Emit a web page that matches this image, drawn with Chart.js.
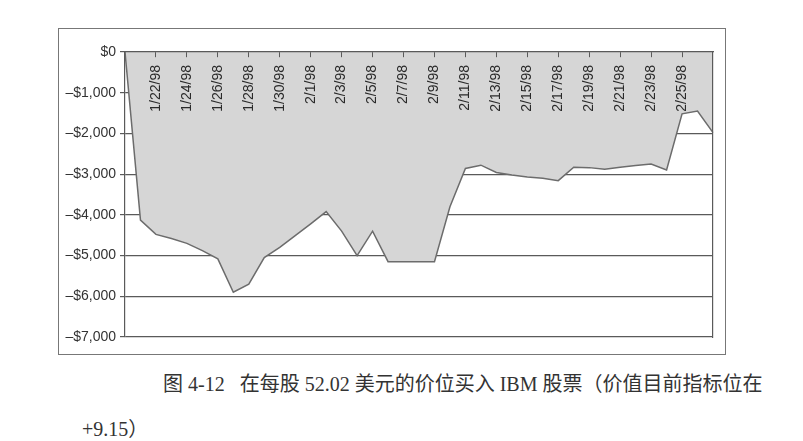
<!DOCTYPE html>
<html>
<head>
<meta charset="utf-8">
<script src="https://cdn.jsdelivr.net/npm/chart.js@4/dist/chart.umd.min.js"></script>
<style>
    body { margin: 0; background: #fff; width: 803px; height: 441px; overflow: hidden; position: relative; }
    .frame { position: absolute; left: 58px; top: 28px; width: 668px; height: 327px; border: 1px solid #777; box-sizing: border-box; }
    .frame canvas { position: absolute; left: 0; top: 0; }
    .caption {
        position: absolute; left: 82px; top: 362px; width: 700px;
        font-family: "Liberation Serif", "Noto Sans CJK SC", serif;
        font-size: 20px; line-height: 45px; color: #333; text-indent: 81px;
    }
</style>
</head>
<body>
<div class="frame"><canvas id="myChart" width="666" height="325"></canvas></div>
<div class="caption">图 4-12&nbsp;&nbsp; 在每股 52.02 美元的价位买入 IBM 股票（价值目前指标位在<br>+9.15）</div>
<script>
const dates = [
    "1/20/98", "1/21/98", "1/22/98", "1/23/98", "1/24/98", "1/25/98", "1/26/98", "1/27/98",
    "1/28/98", "1/29/98", "1/30/98", "1/31/98", "2/1/98", "2/2/98", "2/3/98", "2/4/98",
    "2/5/98", "2/6/98", "2/7/98", "2/8/98", "2/9/98", "2/10/98", "2/11/98", "2/12/98",
    "2/13/98", "2/14/98", "2/15/98", "2/16/98", "2/17/98", "2/18/98", "2/19/98", "2/20/98",
    "2/21/98", "2/22/98", "2/23/98", "2/24/98", "2/25/98", "2/26/98", "2/27/98"
];
const profit = [
    0, -4130, -4480, -4580, -4700, -4880, -5080, -5900,
    -5700, -5050, -4800, -4510, -4220, -3920, -4400, -5000,
    -4400, -5150, -5150, -5150, -5150, -3800, -2860, -2780,
    -2960, -3020, -3070, -3100, -3160, -2830, -2840, -2880,
    -2830, -2790, -2750, -2900, -1520, -1450, -1980
];
const yTicks = [0, -1000, -2000, -3000, -4000, -5000, -6000, -7000];

const axisColor = "#5a5a5a";
const labelFont = { family: "'Liberation Sans', Arial, sans-serif", size: 14 };

// every second date gets a label, first and last left blank
function showLabel(i) {
    return i % 2 === 0 && i >= 2 && i <= dates.length - 3;
}

function money(v) {
    if (v === 0) return "$0";
    return (v < 0 ? "–$" : "$") + Math.abs(v).toLocaleString("en-US");
}

const ctx = document.getElementById("myChart").getContext("2d");

new Chart(ctx, {
    type: "line",
    data: {
        labels: dates,
        datasets: [{
            data: profit,
            borderColor: "#6c6c6c",
            borderWidth: 1.5,
            backgroundColor: "#d6d6d6",
            fill: "origin",
            tension: 0,
            pointRadius: 0
        }]
    },
    options: {
        responsive: false,
        animation: false,
        layout: { padding: { top: 23, right: 12, bottom: 17, left: 0 } },
        plugins: { legend: { display: false }, tooltip: { enabled: false } },
        scales: {
            x: {
                // category axis crosses at $0, labels hang down inside the plot
                position: { y: 0 },
                offset: false,
                grid: {
                    drawOnChartArea: false,
                    tickLength: 5,
                    z: 1,
                    color: c => showLabel(c.index) ? axisColor : "rgba(0,0,0,0)"
                },
                border: { display: true, color: axisColor, width: 1.2, z: 1 },
                ticks: {
                    z: 1,
                    autoSkip: false,
                    minRotation: 90,
                    maxRotation: 90,
                    padding: 8,
                    color: "#2a2a2a",
                    font: labelFont,
                    callback: (val, i) => showLabel(i) ? dates[i] : ""
                },
                afterFit: scale => {
                    scale.paddingLeft = 0;
                    scale.paddingRight = 0;
                }
            },
            y: {
                min: -7000,
                max: 0,
                afterBuildTicks: scale => { scale.ticks = yTicks.map(v => ({ value: v })); },
                grid: { color: axisColor, lineWidth: 1.2, tickLength: 5 },
                border: { display: true, color: axisColor, width: 1.2, z: 1 },
                ticks: { padding: 4, color: "#333", font: labelFont, callback: v => money(v) },
                afterFit: scale => { scale.width = 66; }
            },
            yRight: {
                position: "right",
                min: -7000,
                max: 0,
                grid: { display: false },
                border: { display: true, color: axisColor, width: 1.2, z: 1 },
                ticks: { display: false },
                afterFit: scale => { scale.width = 0; }
            }
        }
    }
});
</script>
</body>
</html>
